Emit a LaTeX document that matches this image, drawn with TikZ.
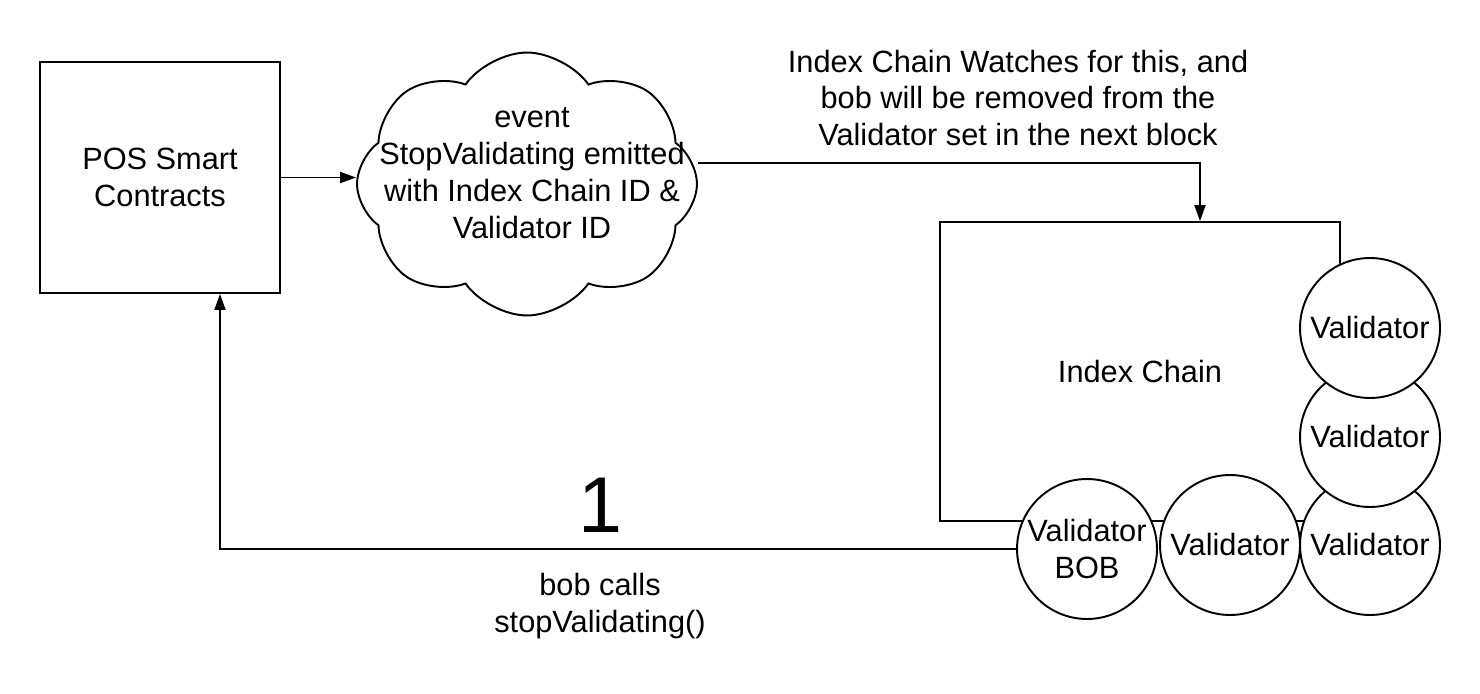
\documentclass[tikz,border=0pt]{standalone}
\usepackage{fontspec}
\setmainfont{Liberation Sans}
\usepackage{tikz}
\usetikzlibrary{shapes.geometric, shapes.symbols, arrows.meta, positioning, calc}

\begin{document}
\begin{tikzpicture}[
    x=0.02cm, y=-0.02cm,
    line width=1.1pt,
    font=\fontsize{17.5}{21}\selectfont,
    block/.style={rectangle, draw, fill=white, minimum width=#1, align=center},
    bubble/.style={cloud, cloud puffs=8, cloud puff arc=110, cloud ignores aspect, draw, minimum width=6.8cm, minimum height=5.26cm, inner sep=0pt},
    validator/.style={circle, draw, fill=white, minimum size=2.8cm, inner sep=0pt, align=center},
    label/.style={align=center, inner sep=1pt},
    flow/.style={-{Triangle[length=0.32cm, width=0.22cm]}}
]
    \useasboundingbox (0,0) rectangle (1480,693);

    % Blocks
    \node[block=4.8cm, minimum height=4.62cm] (pos) at (160,177.5) {POS Smart\\Contracts};
    \node[bubble, shape border rotate=22] (event) at (527,184) {};
    \node[label] (eventtext) at (532,173) {event\\StopValidating emitted\\with Index Chain ID \&\\Validator ID};
    \node[block=8cm, minimum height=5.98cm] (chain) at (1140,371.5) {Index Chain};

    % Validators
    \node[validator] (bob) at (1087,549) {Validator\\BOB};
    \node[validator] (val2) at (1230,545) {Validator};
    \node[validator] (val3) at (1370,545) {Validator};
    \node[validator] (val4) at (1370,437) {Validator};
    \node[validator] (val5) at (1370,328) {Validator};

    % Labels
    \node[label] (watch) at (1018,98) {Index Chain Watches for this, and\\bob will be removed from the\\Validator set in the next block};
    \node[label, font=\fontsize{45}{54}\selectfont] (step) at (600,505) {1};
    \node[label] (calls) at (600,606) {bob calls\\stopValidating()};

    % Connections
    \draw[flow] (pos.east) -- (pos.east -| event.west);
    \draw[flow] ([yshift=0.42cm]event.east) -| ([xshift=1.2cm]chain.north);
    \draw[flow] (bob.west) -| ([xshift=1.2cm]pos.south);
\end{tikzpicture}
\end{document}
